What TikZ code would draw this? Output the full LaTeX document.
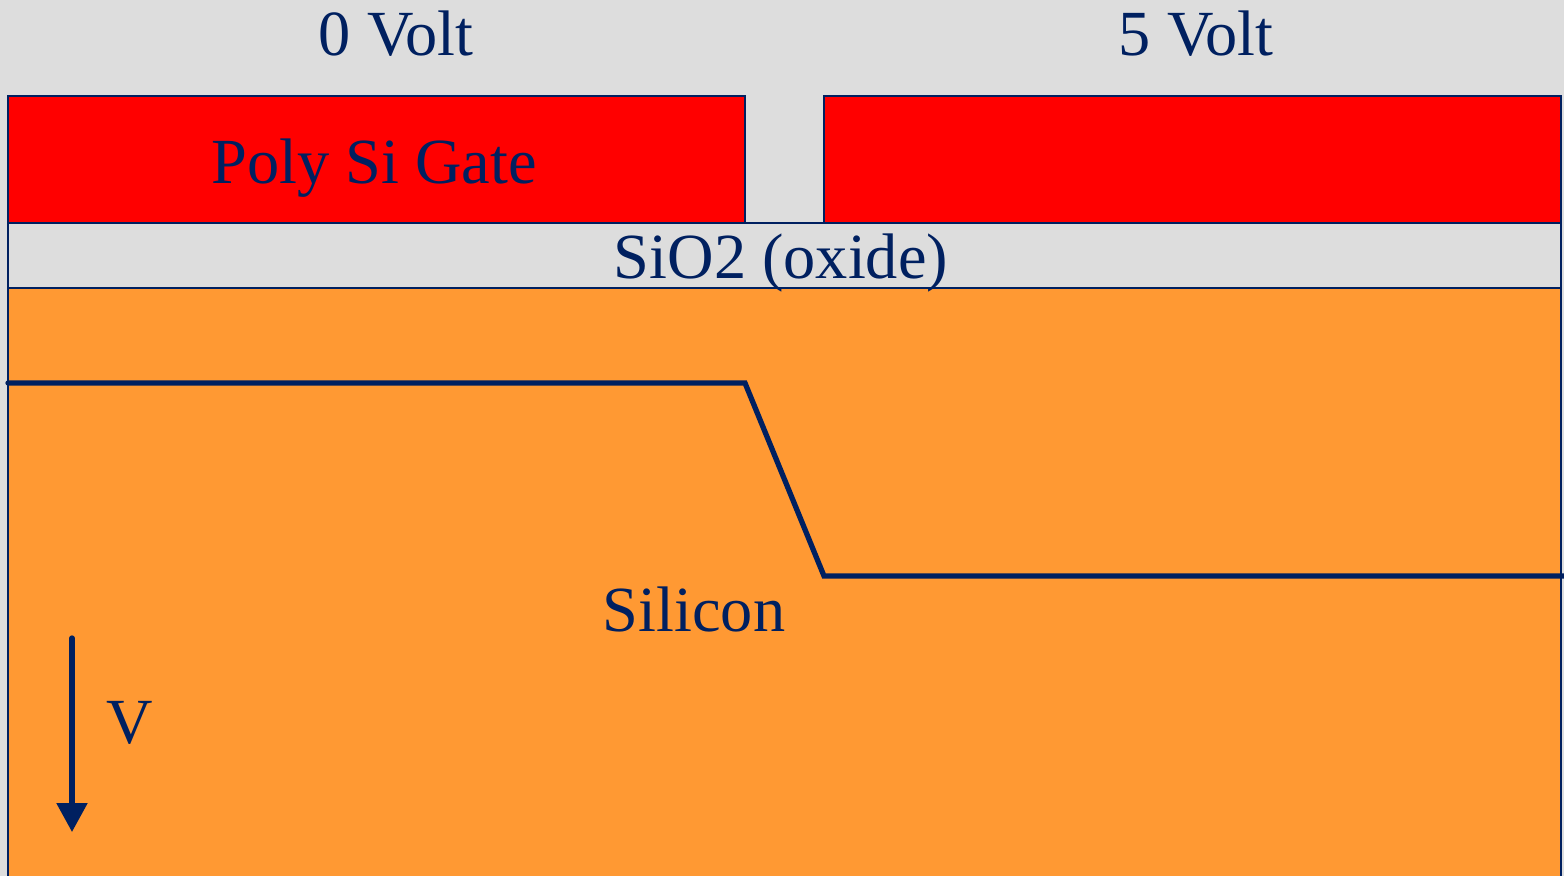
\documentclass[tikz,border=0pt]{standalone}
\usepackage{fontspec}
\setmainfont{Liberation Serif}
\usetikzlibrary{arrows.meta}
\definecolor{navy}{RGB}{0,32,96}
\definecolor{bggray}{RGB}{221,221,221}
\definecolor{siorange}{RGB}{255,153,51}

\begin{document}
\begin{tikzpicture}[x=0.01cm,y=-0.01cm,font=\fontsize{18.3}{22}\selectfont,
  layer/.style={draw=navy,line width=0.45pt},
  lbl/.style={text=navy,anchor=base,inner sep=0pt}]
\fill[bggray] (0,0) rectangle (1564,876);
\useasboundingbox (0,0) rectangle (1564,876);
\draw[layer,fill=siorange] (8,288) rectangle (1561,890);
\draw[layer,fill=bggray] (8,223) rectangle (1561,288);
\draw[layer,fill=red] (8,96) rectangle (745,223);
\draw[layer,fill=red] (824,96) rectangle (1561,223);
\node[lbl] (volt0) at (396,56) {0 Volt};
\node[lbl] (volt5) at (1196,56) {5 Volt};
\node[lbl] (gate) at (374,183) {Poly Si Gate};
\node[lbl] (oxide) at (781,278) {SiO2 (oxide)};
\node[lbl] (si) at (694,631) {Silicon};
\node[lbl] (vlbl) at (130,743) {V};
% potential profile
\draw[navy,line width=1.5pt,line cap=round] (8,383) -- (745,383) -- (824,576) -- (1564,576);
\draw[navy,line width=1.5pt,line cap=round,-{Triangle[width=8.5pt,length=8.2pt]}] (72,638) -- (72,832);
\end{tikzpicture}
\end{document}
